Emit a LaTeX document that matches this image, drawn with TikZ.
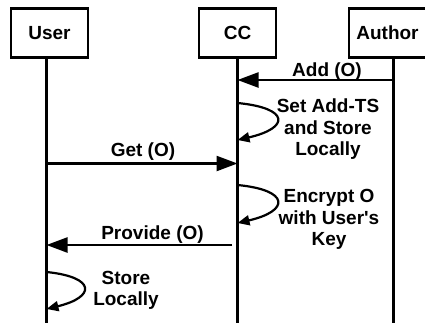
\documentclass[tikz,border=0pt]{standalone}
\usepackage{fontspec}
\setmainfont{Liberation Sans}
\usetikzlibrary{arrows.meta}
\begin{document}
\begin{tikzpicture}[x=1pt,y=-1pt,
  actor/.style={draw,line width=2.6pt,minimum width=77pt,minimum height=49pt,inner sep=0pt,font=\bfseries\fontsize{19}{21.5}\selectfont},
  lifeline/.style={line width=2.8pt},
  msg/.style={line width=2.4pt,-{Triangle[length=21pt,width=15pt]}},
  selfmsg/.style={line width=2.2pt,-{Triangle[length=12pt,width=10pt]}},
  lbl/.style={inner sep=0pt,align=center,font=\bfseries\fontsize{19}{21.5}\selectfont}]
\useasboundingbox (0,0) rectangle (425,325);
\fill[white] (0,0) rectangle (425,325);

% participants
\node[actor] (user) at (49.5,33) {User};
\node[actor] (cc) at (237.5,33) {CC};
\node[actor] (author) at (387.5,33) {Author};

% lifeline ends
\coordinate (user-end) at (46.5,323);
\coordinate (cc-end) at (237.5,323);
\coordinate (author-end) at (393.5,323);
\draw[lifeline] (user.south -| user-end) -- (user-end);
\draw[lifeline] (cc.south -| cc-end) -- (cc-end);
\draw[lifeline] (author.south -| author-end) -- (author-end);

% message anchors on the lifelines
\coordinate (add-from) at (393.5,80);
\coordinate (add-to) at (237.5,80);
\coordinate (get-from) at (46.5,163.5);
\coordinate (get-to) at (237.5,163.5);
\coordinate (prov-from) at (232,245);
\coordinate (prov-to) at (46.5,245);
\coordinate (set-a) at (237.5,103);
\coordinate (set-b) at (237.5,140);
\coordinate (enc-a) at (237.5,185);
\coordinate (enc-b) at (237.5,223);
\coordinate (sto-a) at (46.5,272);
\coordinate (sto-b) at (46.5,309);

% messages
\draw[msg] (add-from) -- (add-to);
\draw[msg] (get-from) -- (get-to);
\draw[msg] (prov-from) -- (prov-to);

% self messages
\draw[selfmsg] (set-a) .. controls (290,108) and (290,128) .. (set-b);
\draw[selfmsg] (enc-a) .. controls (290,190) and (290,211) .. (enc-b);
\draw[selfmsg] (sto-a) .. controls (96,277) and (96,297) .. (sto-b);

% labels
\node[lbl] (add-lbl) at (327,72) {Add (O)};
\node[lbl] (set-lbl) at (328,129.5) {Set Add-TS\\and Store\\Locally};
\node[lbl] (get-lbl) at (143,152) {Get (O)};
\node[lbl] (enc-lbl) at (329,219.5) {Encrypt O\\with User\textquotesingle s\\Key};
\node[lbl] (prov-lbl) at (152.5,235) {Provide (O)};
\node[lbl] (sto-lbl) at (126,290.5) {Store\\Locally};
\end{tikzpicture}
\end{document}
